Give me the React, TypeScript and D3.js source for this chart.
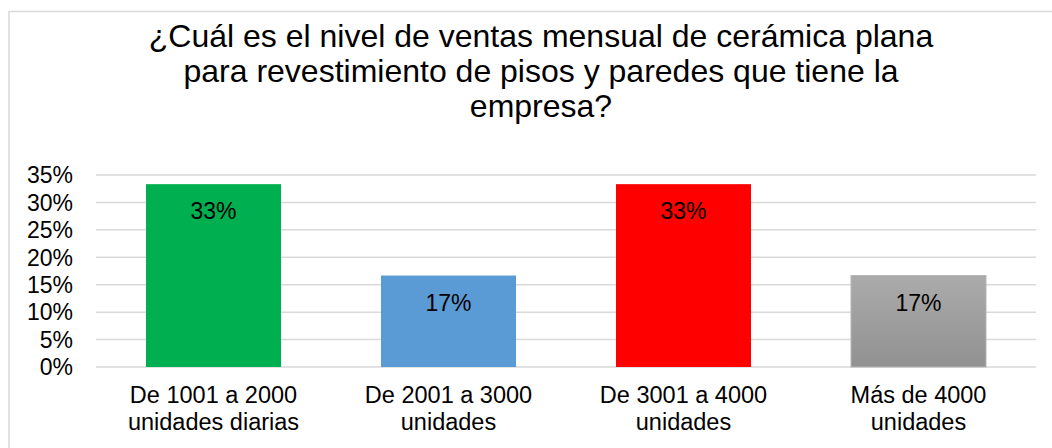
import React from "react";
import * as d3 from "d3";

const categories = [
  "De 1001 a 2000 unidades diarias",
  "De 2001 a 3000 unidades",
  "De 3001 a 4000 unidades",
  "Más de 4000 unidades",
];
const categoryLines = [
  ["De 1001 a 2000", "unidades diarias"],
  ["De 2001 a 3000", "unidades"],
  ["De 3001 a 4000", "unidades"],
  ["Más de 4000", "unidades"],
];
const values = [0.3333, 0.1667, 0.3333, 0.1667];
const barLabels = ["33%", "17%", "33%", "17%"];
const barColors = ["#00B050", "#5B9BD5", "#FF0000", "url(#grayGrad)"];
const yTicks = [0, 0.05, 0.1, 0.15, 0.2, 0.25, 0.3, 0.35];
const titleLines = [
  "¿Cuál es el nivel de ventas mensual de cerámica plana",
  "para revestimiento de pisos y paredes que tiene la",
  "empresa?",
];

const W = 1052;
const H = 448;
const FONT = "'Liberation Sans', Arial, sans-serif";

export default function App() {
  const x = d3.scaleBand<string>().domain(categories).range([96, 1036]).paddingInner(100 / 235).paddingOuter(50 / 235);
  const y = d3.scaleLinear().domain([0, 0.35]).range([367, 175]);
  const fmt = d3.format(".0%");

  return (
    <svg
      width={W}
      height={H}
      style={{ position: "absolute", left: 0, top: 0, display: "block", background: "#fff" }}
      fontFamily={FONT}
    >
      <defs>
        <linearGradient id="grayGrad" x1="0" y1="0" x2="0" y2="1">
          <stop offset="0%" stopColor="#ABABAB" />
          <stop offset="100%" stopColor="#919191" />
        </linearGradient>
      </defs>
      <rect x={9} y={11.5} width={W + 20} height={H + 20} fill="#fff" stroke="#D9D9D9" strokeWidth={1.5} />
      {titleLines.map((t, i) => (
        <text key={i} x={541} y={47 + i * 35} textAnchor="middle" fontSize={32} fill="#000">
          {t}
        </text>
      ))}
      {yTicks.map((t) => (
        <g key={t}>
          <line x1={96} x2={1036} y1={y(t)} y2={y(t)} stroke="#D9D9D9" strokeWidth={1.5} />
          <text x={73} y={y(t)} dy="0.36em" textAnchor="end" fontSize={23} fill="#000">
            {fmt(t)}
          </text>
        </g>
      ))}
      {categories.map((c, i) => (
        <g key={c}>
          <rect
            x={x(c)}
            y={y(values[i])}
            width={x.bandwidth()}
            height={y(0) - y(values[i])}
            fill={barColors[i]}
            stroke={i === 3 ? "#B5B5B5" : "none"}
            strokeWidth={1}
          />
          <text
            x={(x(c) as number) + x.bandwidth() / 2}
            y={y(values[i]) + 35}
            textAnchor="middle"
            fontSize={23}
            fill="#000"
          >
            {barLabels[i]}
          </text>
          {categoryLines[i].map((l, j) => (
            <text
              key={j}
              x={(x(c) as number) + x.bandwidth() / 2}
              y={403 + j * 26.7}
              textAnchor="middle"
              fontSize={23.5}
              fill="#000"
            >
              {l}
            </text>
          ))}
        </g>
      ))}
    </svg>
  );
}
